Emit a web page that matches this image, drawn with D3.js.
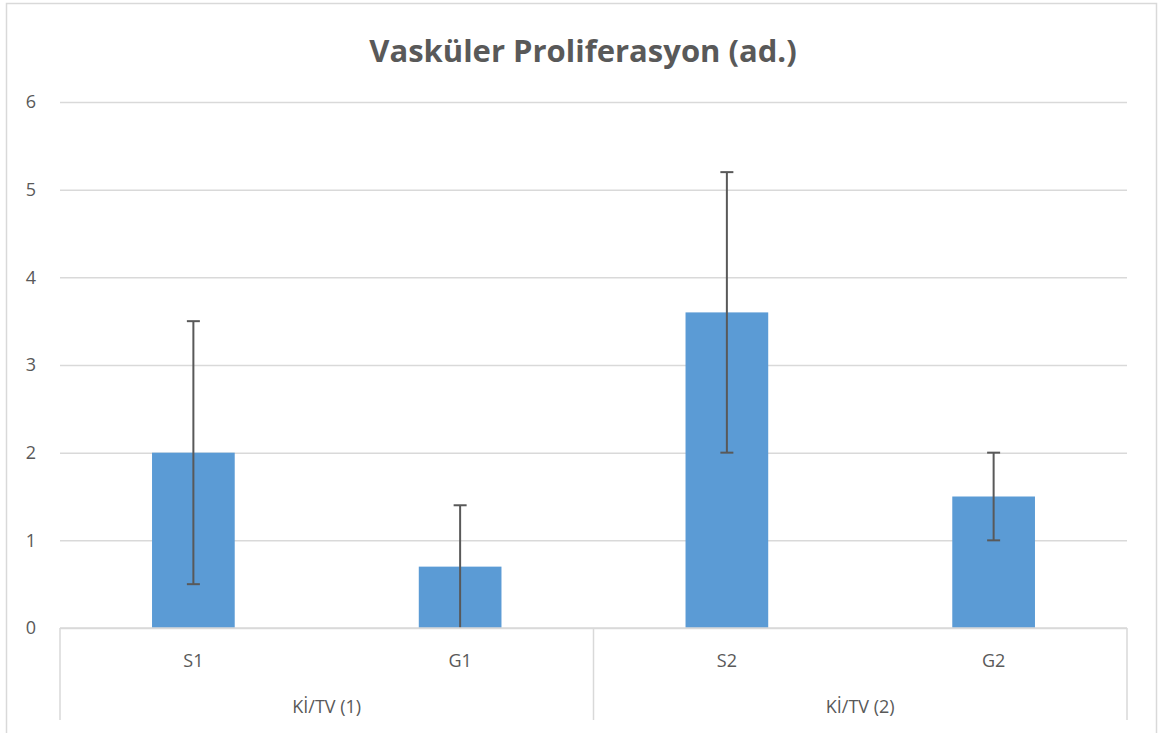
<!DOCTYPE html>
<html>
<head>
<meta charset="utf-8">
<script src="https://cdn.jsdelivr.net/npm/d3@7"></script>
<style>
  body { margin: 0; background: #fff; }
  text { font-family: "Open Sans", "Noto Sans", sans-serif; fill: #595959; }
</style>
</head>
<body>
<div class="chart"></div>
<script>
// Data
const categories = ['S1', 'G1', 'S2', 'G2'];
const groups = ['Kİ/TV (1)', 'Kİ/TV (2)'];
const values = [2, 0.7, 3.6, 1.5];
const errors = [1.5, 0.7, 1.6, 0.5];
const yTicks = [0, 1, 2, 3, 4, 5, 6];
const title = 'Vasküler Proliferasyon (ad.)';

const svg_width = 1160;
const svg_height = 733;
const margin = {top: 102, right: 33, bottom: 105, left: 60};
const chart_width = svg_width - margin.left - margin.right;
const chart_height = svg_height - margin.top - margin.bottom;

const svg = d3.select('.chart').append('svg')
  .attr('width', svg_width).attr('height', svg_height);

// outer frame
svg.append('rect')
  .attr('x', 6.5).attr('y', 3.5)
  .attr('width', 1150).attr('height', 740)
  .attr('fill', 'none').attr('stroke', '#d9d9d9').attr('stroke-width', 1.5);

const g = svg.append('g')
  .attr('transform', `translate(${margin.left},${margin.top})`);

const xScale = d3.scaleBand().domain(categories).range([0, chart_width]).paddingInner(0.69).paddingOuter(0.345);
const yScale = d3.scaleLinear().domain([0, 6]).range([chart_height, 0]);

// grid
const yAxis = d3.axisLeft(yScale).tickValues(yTicks).tickFormat(d3.format('d'))
  .tickSizeInner(-chart_width).tickSizeOuter(0).tickPadding(24);
const yAxisDraw = g.append('g').attr('class', 'y axis').call(yAxis);
yAxisDraw.select('.domain').remove();
yAxisDraw.selectAll('line').attr('stroke', '#d9d9d9').attr('stroke-width', 1.5);
yAxisDraw.selectAll('text').style('font-size', '18px').attr('fill', '#595959');

// bars
g.selectAll('.bar').data(values).join('rect')
  .attr('class', 'bar')
  .attr('x', (d, i) => xScale(categories[i]))
  .attr('y', d => yScale(d))
  .attr('width', xScale.bandwidth())
  .attr('height', d => chart_height - yScale(d))
  .attr('fill', '#5b9bd5');

// error bars
const errG = g.append('g').attr('class', 'errors');
values.forEach((v, i) => {
  const cx = xScale(categories[i]) + xScale.bandwidth() / 2;
  const lo = Math.max(0, v - errors[i]);
  const hi = v + errors[i];
  errG.append('line')
    .attr('x1', cx).attr('x2', cx)
    .attr('y1', yScale(lo)).attr('y2', yScale(hi))
    .attr('stroke', '#595959').attr('stroke-width', 2);
  [lo, hi].forEach(val => {
    if (val === 0) return;
    errG.append('line')
      .attr('x1', cx - 6.5).attr('x2', cx + 6.5)
      .attr('y1', yScale(val)).attr('y2', yScale(val))
      .attr('stroke', '#595959').attr('stroke-width', 2);
  });
});

// bottom axis with group boxes
const axisG = g.append('g').attr('transform', `translate(0,${chart_height})`);
axisG.append('line').attr('x1', 0).attr('x2', chart_width)
  .attr('stroke', '#d9d9d9').attr('stroke-width', 1.5);
const groupScale = d3.scaleBand().domain(groups).range([0, chart_width]);
[0, chart_width / 2, chart_width].forEach(x => {
  axisG.append('line').attr('x1', x).attr('x2', x).attr('y1', 0).attr('y2', 92)
    .attr('stroke', '#d9d9d9').attr('stroke-width', 1.5);
});
axisG.selectAll('.cat').data(categories).join('text')
  .attr('class', 'cat')
  .attr('x', d => xScale(d) + xScale.bandwidth() / 2)
  .attr('y', 39)
  .attr('text-anchor', 'middle')
  .style('font-size', '18px')
  .text(d => d);
axisG.selectAll('.grp').data(groups).join('text')
  .attr('class', 'grp')
  .attr('x', d => groupScale(d) + groupScale.bandwidth() / 2)
  .attr('y', 85)
  .attr('text-anchor', 'middle')
  .style('font-size', '18px')
  .text(d => d);

// title
svg.append('text')
  .attr('x', 583).attr('y', 62)
  .attr('text-anchor', 'middle')
  .style('font-size', '31px').style('font-weight', 'bold')
  .text(title);
</script>
</body>
</html>
